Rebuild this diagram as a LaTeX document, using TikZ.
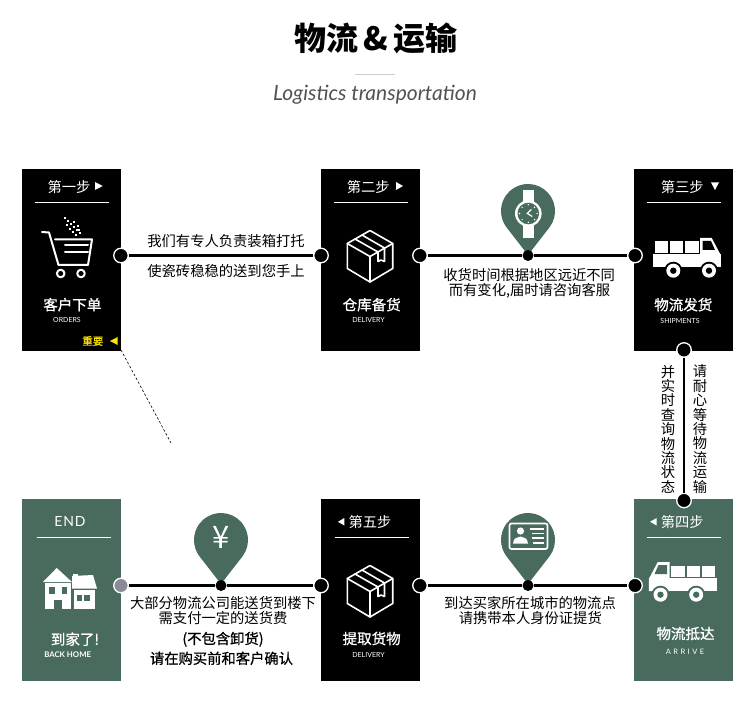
\documentclass[tikz,border=0pt]{standalone}
\usepackage{fontspec}
\setmainfont{Noto Sans CJK SC}
\newfontfamily\medf[FakeBold=0.9]{Noto Sans CJK SC}
\newfontfamily\latf{Lato}
\newfontfamily\latw[LetterSpace=6]{Lato}
\definecolor{pine}{HTML}{486B5D}
\definecolor{gold}{HTML}{FFE600}
\definecolor{dotgray}{HTML}{8A8A98}
\newcommand{\fs}[1]{\fontsize{#1}{#1}\selectfont}
\tikzset{
  card/.style={draw=none,fill=black,minimum width=99pt,minimum height=181.5pt,inner sep=0pt,anchor=north west},
  gcard/.style={card,fill=pine},
  wtxt/.style={text=white,inner sep=0pt,font=\fs{14.3}},
  ttl/.style={text=white,inner sep=0pt,font=\medf\fs{14.5}},
  subt/.style={text=white,inner sep=0pt,font=\latf\fs{7}},
  body/.style={text=black,inner sep=0pt,font=\fs{14.3}},
  bodyb/.style={body,font=\medf\fs{14.3}},
  dot/.style={circle,fill=black,draw=white,line width=1.3pt,minimum size=14.5pt,inner sep=0pt},
  gdot/.style={dot,fill=dotgray},
  pdot/.style={circle,fill=black,minimum size=11pt,inner sep=0pt},
  link/.style={draw=black,line width=2.3pt},
  whiterule/.style={draw=white,line width=1pt},
  whiteline/.style={draw=white,line width=1.6pt,line join=round,line cap=round},
  tri/.style={fill=white,draw=none},
}
\newcommand{\pinshape}[2]{\fill[pine,shift={(#1,#2)}] (0,44) -- (21.6,16.2) arc[start angle=36.87,end angle=-216.87,radius=27] -- cycle;}
\newcommand{\boxicon}[2]{\begin{scope}[shift={(#1,#2)},whiteline]
  \draw (0,-26) -- (22.7,-13) -- (22.7,12) -- (0,25.5) -- (-22.7,12) -- (-22.7,-13) -- cycle;
  \draw (-22.7,-13) -- (0,0) -- (22.7,-13) (0,0) -- (0,25.5);
  \draw (-15,-17.5) -- (8,-4.5) (-8,-21.5) -- (14.5,-8.5);
  \draw (8,-4.5) -- (8,5) -- (11,3.5) -- (14.5,5) -- (14.5,-8.5);
\end{scope}}
\newcommand{\truckicon}{%
  \fill[white] (0,16) rectangle (67.5,29);
  \fill[white] (2,3.5) rectangle (15,15);
  \fill[white] (17,3.5) rectangle (30,15);
  \fill[white] (32,3.5) rectangle (46,15);
  \fill[white] (47,0) -- (58.7,0) -- (67.7,17) -- (67.7,29) -- (47,29) -- cycle;
  \fill[truckbg] (49.5,3) -- (58,3) -- (62,12) -- (49.5,12) -- cycle;
  \fill[truckbg] (20.3,32.7) circle (9); \fill[truckbg] (56,32.7) circle (9);
  \fill[white] (20.3,32.7) circle (7); \fill[white] (56,32.7) circle (7);
  \fill[truckbg] (20.3,32.7) circle (3.2); \fill[truckbg] (56,32.7) circle (3.2);
}
\begin{document}
\begin{tikzpicture}[x=1pt,y=-1pt]
\useasboundingbox (0,0) rectangle (750,714);
\fill[white] (0,0) rectangle (750,714);

% header
\node[inner sep=0pt,text=black,font=\fs{32}\bfseries] (title) at (376,38) {物流\,\&\,运输};
\node[inner sep=0pt,text=black!68,font=\latf\fs{21}\itshape] (subtitle) at (375,95) {Logistics transportation};
\draw[black!20,line width=0.8pt] (355,74) -- (395,74);

% cards
\node[card] (c1) at (22,169) {};
\node[card] (c2) at (321,169) {};
\node[card] (c3) at (634,169) {};
\node[gcard] (c6) at (22,499) {};
\node[card] (c5) at (321,499) {};
\node[gcard] (c4) at (634,499) {};

% card heads
\node[wtxt] (h1) at (69,187) {第一步};
\fill[tri] (95,182) -- (102.7,186) -- (95,190) -- cycle;
\draw[whiterule] (34.7,202.5) -- (109.3,202.5);
\node[wtxt] (h2) at (368.2,187) {第二步};
\fill[tri] (396,182) -- (403,186) -- (396,190) -- cycle;
\draw[whiterule] (333.7,202.5) -- (408.3,202.5);
\node[wtxt] (h3) at (682.2,187) {第三步};
\fill[tri] (711,182.5) -- (719,182.5) -- (715,190) -- cycle;
\draw[whiterule] (646.7,202.5) -- (721.3,202.5);
\node[wtxt,font=\latw\fs{14}] (h6) at (70,521.5) {END};
\draw[whiterule] (36.7,537.3) -- (111.3,537.3);
\node[wtxt] (h5) at (370,522.5) {第五步};
\fill[tri] (344.3,518) -- (344.3,525.5) -- (338,521.8) -- cycle;
\draw[whiterule] (334.5,537.3) -- (409,537.3);
\node[wtxt] (h4) at (682.2,522.5) {第四步};
\fill[tri] (656.7,518) -- (656.7,525.5) -- (650,521.8) -- cycle;
\draw[whiterule] (646.7,537.3) -- (721.3,537.3);

% card titles
\node[ttl] (t1) at (72.3,304.7) {客户下单};
\node[subt] (s1) at (67,319.5) {ORDERS};
\node[text=gold,inner sep=0pt,font=\medf\fs{10.5}] (imp) at (92.8,341) {重要};
\fill[gold] (117.7,337) -- (117.7,345) -- (110,341) -- cycle;
\node[ttl] (t2) at (371.7,304.7) {仓库备货};
\node[subt] (s2) at (368.5,319.5) {DELIVERY};
\node[ttl] (t3) at (683.3,304.7) {物流发货};
\node[subt] (s3) at (680,320.5) {SHIPMENTS};
\node[ttl] (t6) at (75,639.2) {到家了!};
\node[subt,font=\latf\fs{7.8}\bfseries] (s6) at (67.7,654.5) {BACK HOME};
\node[ttl] (t5) at (371.7,638.5) {提取货物};
\node[subt] (s5) at (368.5,654.5) {DELIVERY};
\node[ttl] (t4) at (685.5,633.5) {物流抵达};
\node[subt,font=\latf\fs{7.5}] (s4) at (685,651.5) {A\,\,R\,\,R\,\,I\,\,V\,\,E};

% cart icon
\begin{scope}[whiteline,line width=2pt]
  \draw (42,232) -- (49,232.5) -- (58.5,265) -- (88,265) -- (92,239.5) -- (55,239.5);
  \draw (65,252) -- (88,252) (65,245.5) -- (88,245.5);
  \draw (60.7,273.5) circle (3.8) (81,273.5) circle (3.8);
\end{scope}
\foreach \a/\b in {65/218,68/221,71/224,74/227,77/230,80/233,70/229,73/232,76/235,79/230,67/225,74/222,78/226}
  \fill[white] (\a-1.1,\b-1.1) rectangle (\a+1.1,\b+1.1);

% box icons
\boxicon{370}{256.5}
\boxicon{370}{591.5}

% trucks
\colorlet{truckbg}{black}
\begin{scope}[shift={(653,238)}]\truckicon\end{scope}
\colorlet{truckbg}{pine}
\begin{scope}[shift={(716.5,562)},xscale=-1]\truckicon\end{scope}

% house
\begin{scope}
  \fill[white] (73,574) rectangle (78,584);
  \fill[white] (72,576) -- (93,575) -- (97,588.5) -- (72,588.5) -- cycle;
  \fill[white] (73.5,589.5) rectangle (95,609);
  \fill[white] (56.7,568) -- (72,582) -- (43,582) -- cycle;
  \fill[white] (45,583) rectangle (71,609);
  \fill[pine] (49,587) rectangle (55,594);
  \fill[pine] (61.5,587) rectangle (67,594);
  \fill[pine] (54,600) rectangle (61.5,609);
  \fill[pine] (76.5,595) rectangle (82,601);
  \fill[pine] (84,595) rectangle (90,601);
\end{scope}

% pins
\pinshape{528}{211}
\pinshape{221}{540}
\pinshape{528}{540}

% connectors
\node[dot] (a1) at (121,255.5) {};
\node[dot] (a2) at (321,255.5) {};
\node[dot] (a3) at (420,255.5) {};
\node[dot] (a4) at (635,255.5) {};
\node[dot] (v1) at (684,350) {};
\node[dot] (v2) at (684,500.5) {};
\node[gdot] (b1) at (121,585.5) {};
\node[dot] (b2) at (321,585.5) {};
\node[dot] (b3) at (420,585.5) {};
\node[dot] (b4) at (635,585.5) {};
\node[pdot] (pa) at (528,255.5) {};
\node[pdot] (pb) at (221,585.5) {};
\node[pdot] (pc) at (528,585.5) {};
\draw[link] (a1) -- (a2);
\draw[link] (a3) -- (pa);
\draw[link] (pa) -- (a4);
\draw[link] (v1) -- (v2);
\draw[link] (b1) -- (pb);
\draw[link] (pb) -- (b2);
\draw[link] (b3) -- (pc);
\draw[link] (pc) -- (b4);
\coordinate (dashend) at (171,443);
\coordinate (dashstart) at (121,350);
\draw[black,line width=0.6pt,dash pattern=on 2.5pt off 2pt] (dashstart) -- (dashend);

% watch
\begin{scope}[shift={(528.3,213.5)}]
  \fill[white] (-5.5,-23.5) rectangle (5.5,25);
  \fill[white] (0,0) circle (13.3);
  \fill[pine] (0,0) circle (10.8);
  \foreach \p in {(0,-8.8),(6.2,-6.2),(8.8,0),(6.2,6.2),(0,8.8),(-6.2,6.2),(-8.8,0),(-6.2,-6.2)}
    \fill[white] \p circle (0.8);
  \draw[white,line width=1.2pt] (3,-4) -- (-1,0) -- (4,3);
\end{scope}

% yen
\node[inner sep=0pt,text=white,font=\fs{31}] (yen) at (220.7,537) {¥};

% id card
\begin{scope}[shift={(509.5,523.5)}]
  \draw[white,line width=1.7pt,rounded corners=2pt] (0,0) rectangle (38,25.5);
  \fill[white] (11,7.5) circle (3.6);
  \fill[white] (3.5,20) .. controls (4,14) and (8,14) .. (11,13) .. controls (14,14) and (18,14) .. (18.5,20) -- cycle;
  \draw[white,line width=1.2pt] (20,5.5) -- (34,5.5) (22,10) -- (34,10) (22,14.5) -- (34,14.5) (23,19.5) -- (34,19.5);
\end{scope}

% body texts
\node[body] (n1) at (226,241.5) {我们有专人负责装箱打托};
\node[body] (n2) at (226,270.8) {使瓷砖稳稳的送到您手上};
\node[body] (n3) at (529.2,274.8) {收货时间根据地区远近不同};
\node[body] (n4) at (529.5,290.3) {而有变化,届时请咨询客服};
\node[body] (n5) at (223,602.8) {大部分物流公司能送货到楼下};
\node[body] (n6) at (223,618.3) {需支付一定的送货费};
\node[bodyb] (n7) at (223,639.3) {(不包含卸货)};
\node[bodyb] (n8) at (221.5,658.3) {请在购买前和客户确认};
\node[body] (n9) at (530,602.8) {到达买家所在城市的物流点};
\node[body] (n10) at (530.3,617.8) {请携带本人身份证提货};
\node[body,align=center,font=\fontsize{14.3}{14.4}\selectfont] (n11) at (668,429) {并\\实\\时\\查\\询\\物\\流\\状\\态};
\node[body,align=center,font=\fontsize{14.3}{14.4}\selectfont] (n12) at (700,429) {请\\耐\\心\\等\\待\\物\\流\\运\\输};
\end{tikzpicture}
\end{document}
